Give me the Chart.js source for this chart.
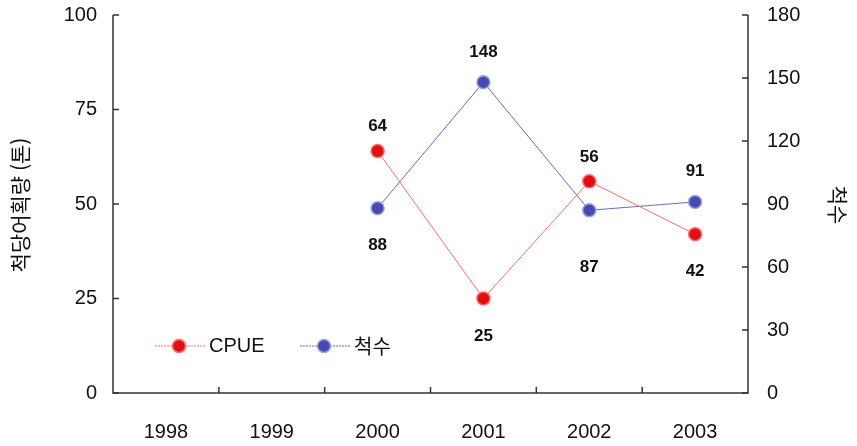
<!DOCTYPE html>
<html lang="ko">
<head>
<meta charset="UTF-8">
<title>CPUE / 척수</title>
<script src="https://cdn.jsdelivr.net/npm/chart.js"></script>
<style>
  html, body { margin: 0; padding: 0; background: #fff; }
  #wrap { width: 857px; height: 446px; position: relative; }
</style>
</head>
<body>
<div id="wrap"><canvas id="myChart" width="857" height="446"></canvas></div>
<script>
// 데이터
const years = ['1998', '1999', '2000', '2001', '2002', '2003'];
const cpue = [null, null, 64, 25, 56, 42];
const boats = [null, null, 88, 148, 87, 91];
const leftTicks = [0, 25, 50, 75, 100];
const rightTicks = [0, 30, 60, 90, 120, 150, 180];

const FONT = 'Arial, "Liberation Sans", sans-serif';
const KFONT = '"Noto Sans CJK KR", "Noto Sans", sans-serif';

// 값 라벨 위치 (위/아래 오프셋)
const cpueOff = [0, 0, -25, 38, -24, 37];
const boatOff = [0, 0, 37, -30, 57, -31];

const decorPlugin = {
  id: 'decor',
  afterDraw(chart) {
    const ctx = chart.ctx;
    const xs = chart.scales.x, yl = chart.scales.y, yr = chart.scales.y1;
    const area = chart.chartArea;
    ctx.save();
    ctx.strokeStyle = '#333';
    ctx.lineWidth = 1.5;
    // 축선
    ctx.beginPath();
    ctx.moveTo(area.left, area.top);
    ctx.lineTo(area.left, area.bottom);
    ctx.lineTo(area.right, area.bottom);
    ctx.lineTo(area.right, area.top);
    ctx.stroke();
    // 안쪽 눈금
    ctx.beginPath();
    leftTicks.forEach(v => {
      const y = yl.getPixelForValue(v);
      ctx.moveTo(area.left, y); ctx.lineTo(area.left + 6, y);
    });
    rightTicks.forEach(v => {
      const y = yr.getPixelForValue(v);
      ctx.moveTo(area.right, y); ctx.lineTo(area.right - 6, y);
    });
    for (let i = 1; i < years.length; i++) {
      const x = (xs.getPixelForValue(i - 1) + xs.getPixelForValue(i)) / 2;
      ctx.moveTo(x, area.bottom); ctx.lineTo(x, area.bottom - 6);
    }
    ctx.stroke();

    // 값 라벨
    ctx.fillStyle = '#111';
    ctx.font = 'bold 17px ' + FONT;
    ctx.textAlign = 'center';
    ctx.textBaseline = 'middle';
    cpue.forEach((v, i) => {
      if (v === null) return;
      ctx.fillText(String(v), xs.getPixelForValue(i), yl.getPixelForValue(v) + cpueOff[i]);
    });
    boats.forEach((v, i) => {
      if (v === null) return;
      ctx.fillText(String(v), xs.getPixelForValue(i), yr.getPixelForValue(v) + boatOff[i]);
    });

    // 범례
    const items = [
      { label: 'CPUE', line: '#f07070', fill: '#e01010', edge: '#ff7070', x: 155 },
      { label: '척수', line: '#6a6ac0', fill: '#4848b0', edge: '#8fa8e8', x: 300 }
    ];
    const ly = 346;
    items.forEach(it => {
      ctx.strokeStyle = it.line;
      ctx.lineWidth = 1;
      ctx.setLineDash([2, 1]);
      ctx.beginPath(); ctx.moveTo(it.x, ly); ctx.lineTo(it.x + 50, ly); ctx.stroke();
      ctx.setLineDash([]);
      ctx.beginPath(); ctx.arc(it.x + 24, ly, 6.5, 0, Math.PI * 2);
      ctx.fillStyle = it.fill; ctx.fill();
      ctx.strokeStyle = it.edge; ctx.lineWidth = 1.5; ctx.stroke();
      ctx.fillStyle = '#111';
      ctx.textAlign = 'left';
      ctx.font = it.label === 'CPUE' ? '20px ' + FONT : '20px ' + KFONT;
      ctx.fillText(it.label, it.x + 54, ly);
    });

    // 축 제목
    ctx.font = '21px ' + KFONT;
    ctx.textAlign = 'center';
    ctx.save();
    ctx.translate(20, 205);
    ctx.rotate(-Math.PI / 2);
    ctx.fillText('척당어획량 (톤)', 0, 0);
    ctx.restore();
    ctx.save();
    ctx.translate(838, 205);
    ctx.rotate(Math.PI / 2);
    ctx.fillText('척수', 0, 0);
    ctx.restore();
    ctx.restore();
  }
};

const tickFont = { family: FONT, size: 20 };

function fitY(s) {
  s.width = s.position === 'left' ? 113 : 109;
  s.paddingTop = 0;
  s.paddingBottom = 0;
}

const ctx = document.getElementById('myChart').getContext('2d');
new Chart(ctx, {
  type: 'line',
  data: {
    labels: years,
    datasets: [
      {
        label: 'CPUE',
        data: cpue,
        yAxisID: 'y',
        borderColor: '#f07070',
        borderWidth: 1,
        pointRadius: 6.5,
        pointBackgroundColor: '#e01010',
        pointBorderColor: '#ff6a6a',
        pointBorderWidth: 1.5,
        tension: 0
      },
      {
        label: '척수',
        data: boats,
        yAxisID: 'y1',
        borderColor: '#6a6ac0',
        borderWidth: 1,
        pointRadius: 6.5,
        pointBackgroundColor: '#4848b0',
        pointBorderColor: '#8fa8e8',
        pointBorderWidth: 1.5,
        tension: 0
      }
    ]
  },
  options: {
    responsive: false,
    animation: false,
    events: [],
    layout: { padding: { top: 15, bottom: 0 } },
    plugins: { legend: { display: false }, tooltip: { enabled: false } },
    scales: {
      x: {
        offset: true,
        grid: { display: false },
        border: { display: false },
        ticks: { color: '#111', font: tickFont, padding: 19 },
        afterFit(s) { s.height = 53; s.paddingLeft = 0; s.paddingRight = 0; }
      },
      y: {
        position: 'left',
        min: 0, max: 100,
        afterBuildTicks(s) { s.ticks = leftTicks.map(v => ({ value: v })); },
        grid: { display: false },
        border: { display: false },
        ticks: { color: '#111', font: tickFont, padding: 8 },
        afterFit: fitY
      },
      y1: {
        position: 'right',
        min: 0, max: 180,
        afterBuildTicks(s) { s.ticks = rightTicks.map(v => ({ value: v })); },
        grid: { display: false },
        border: { display: false },
        ticks: { color: '#111', font: tickFont, padding: 11 },
        afterFit: fitY
      }
    }
  },
  plugins: [decorPlugin]
});
</script>
</body>
</html>
